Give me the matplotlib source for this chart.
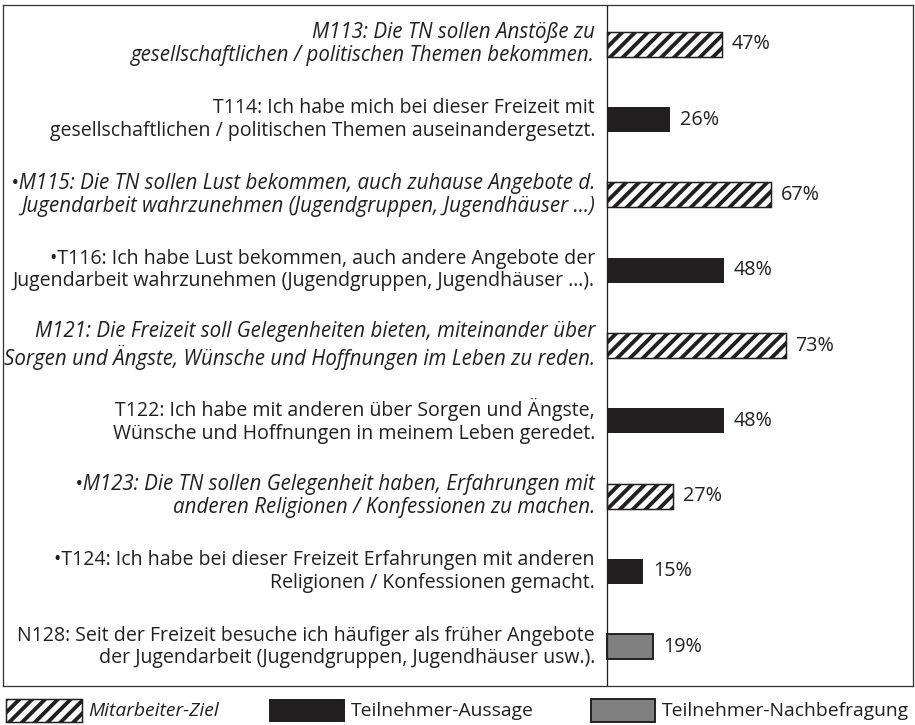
import matplotlib
matplotlib.use('Agg')
import matplotlib.pyplot as plt
from matplotlib.patches import Rectangle
from matplotlib import font_manager as fm

labels = [
    "M113: Die TN sollen Anstöße zu\ngesellschaftlichen / politischen Themen bekommen.",
    "T114: Ich habe mich bei dieser Freizeit mit\ngesellschaftlichen / politischen Themen auseinandergesetzt.",
    "•M115: Die TN sollen Lust bekommen, auch zuhause Angebote d.\nJugendarbeit wahrzunehmen (Jugendgruppen, Jugendhäuser ...)",
    "•T116: Ich habe Lust bekommen, auch andere Angebote der\nJugendarbeit wahrzunehmen (Jugendgruppen, Jugendhäuser ...).",
    "M121: Die Freizeit soll Gelegenheiten bieten, miteinander über\nSorgen und Ängste, Wünsche und Hoffnungen im Leben zu reden.",
    "T122: Ich habe mit anderen über Sorgen und Ängste,\nWünsche und Hoffnungen in meinem Leben geredet.",
    "•M123: Die TN sollen Gelegenheit haben, Erfahrungen mit\nanderen Religionen / Konfessionen zu machen.",
    "•T124: Ich habe bei dieser Freizeit Erfahrungen mit anderen\nReligionen / Konfessionen gemacht.",
    "N128: Seit der Freizeit besuche ich häufiger als früher Angebote\nder Jugendarbeit (Jugendgruppen, Jugendhäuser usw.).",
]
values = [47, 26, 67, 48, 73, 48, 27, 15, 19]
kinds = ['M', 'T', 'M', 'T', 'M', 'T', 'M', 'T', 'N']
legend_labels = ['Mitarbeiter-Ziel', 'Teilnehmer-Aussage', 'Teilnehmer-Nachbefragung']

DARK = '#231f20'
GRAY = '#808080'
styles = {
    'M': dict(facecolor='white', edgecolor=DARK, hatch='//', linewidth=1.4),
    'T': dict(facecolor=DARK, edgecolor=DARK, linewidth=0),
    'N': dict(facecolor=GRAY, edgecolor=DARK, linewidth=1.8),
}
italic = {'M': 'italic', 'T': 'normal', 'N': 'normal'}

LABEL_FONT = ['Open Sans', 'DejaVu Sans']
PCT_FONT = ['Open Sans', 'DejaVu Sans']
LEG_FONT = ['Open Sans', 'DejaVu Sans']

DPI = 77
plt.rcParams['hatch.linewidth'] = 3.6
W, H = 915, 725
fig = plt.figure(figsize=(W / DPI, H / DPI), dpi=DPI)
fig.patch.set_facecolor('white')
renderer = fig.canvas.get_renderer()


def fit_size(text, target_px, family, style='normal'):
    t = fig.text(0, 0, text, fontsize=15, family=family, style=style)
    w = t.get_window_extent(renderer).width
    t.remove()
    return 15 * target_px / w


# font sizes fitted to the reference's measured line widths
LFS_N = fit_size("gesellschaftlichen / politischen Themen auseinandergesetzt.", 545, LABEL_FONT)
LFS_I = fit_size("Sorgen und Ängste, Wünsche und Hoffnungen im Leben zu reden.", 590, LABEL_FONT, 'italic')
LEG_FS = fit_size("Teilnehmer-Nachbefragung", 246, LEG_FONT)
sizes = {'M': LFS_I, 'T': LFS_N, 'N': LFS_N}
fp = fm.FontProperties(family=LABEL_FONT, size=LFS_N)
_, lp_h, _ = renderer.get_text_width_height_descent("lp", fp, ismath=False)
LSP = 23.0 / lp_h

ax = fig.add_axes([3 / W, (H - 686) / H, 910 / W, 681 / H])
px_per = 2.45
x0 = 606.7
ax.set_xlim(-(x0 - 3) / px_per, (913 - x0) / px_per)
ax.set_ylim(8.52, -0.52)
ax.set_xticks([])
ax.set_yticks([])
for s in ax.spines.values():
    s.set_color('#333333')
    s.set_linewidth(1.2)
ax.axvline(0, color=DARK, lw=1.2)

for i, (lab, v, k) in enumerate(zip(labels, values, kinds)):
    ax.barh(i, v, height=0.33, left=0, **styles[k])
    ax.text(v + 4.0, i, f"{v}%", va='center', ha='left', fontsize=18.5,
            family=PCT_FONT, color=DARK)
    ax.text(-4.8, i, lab, va='center', ha='right', fontsize=sizes[k],
            family=LABEL_FONT, style=italic[k], color=DARK,
            linespacing=LSP * LFS_N / sizes[k])

# legend
leg = [(6, 76, 'M', 88), (269, 76, 'T', 351), (591, 64, 'N', 662)]
for (lx, lw, k, tx), name in zip(leg, legend_labels):
    r = Rectangle((lx / W, 3 / H), lw / W, 23 / H, transform=fig.transFigure,
                  **styles[k])
    fig.add_artist(r)
    fig.text(tx / W, (H - 711) / H, name, va='center', ha='left', fontsize=LEG_FS,
             family=LEG_FONT, style=italic[k], color=DARK)

fig.savefig('out.png', dpi=DPI)
